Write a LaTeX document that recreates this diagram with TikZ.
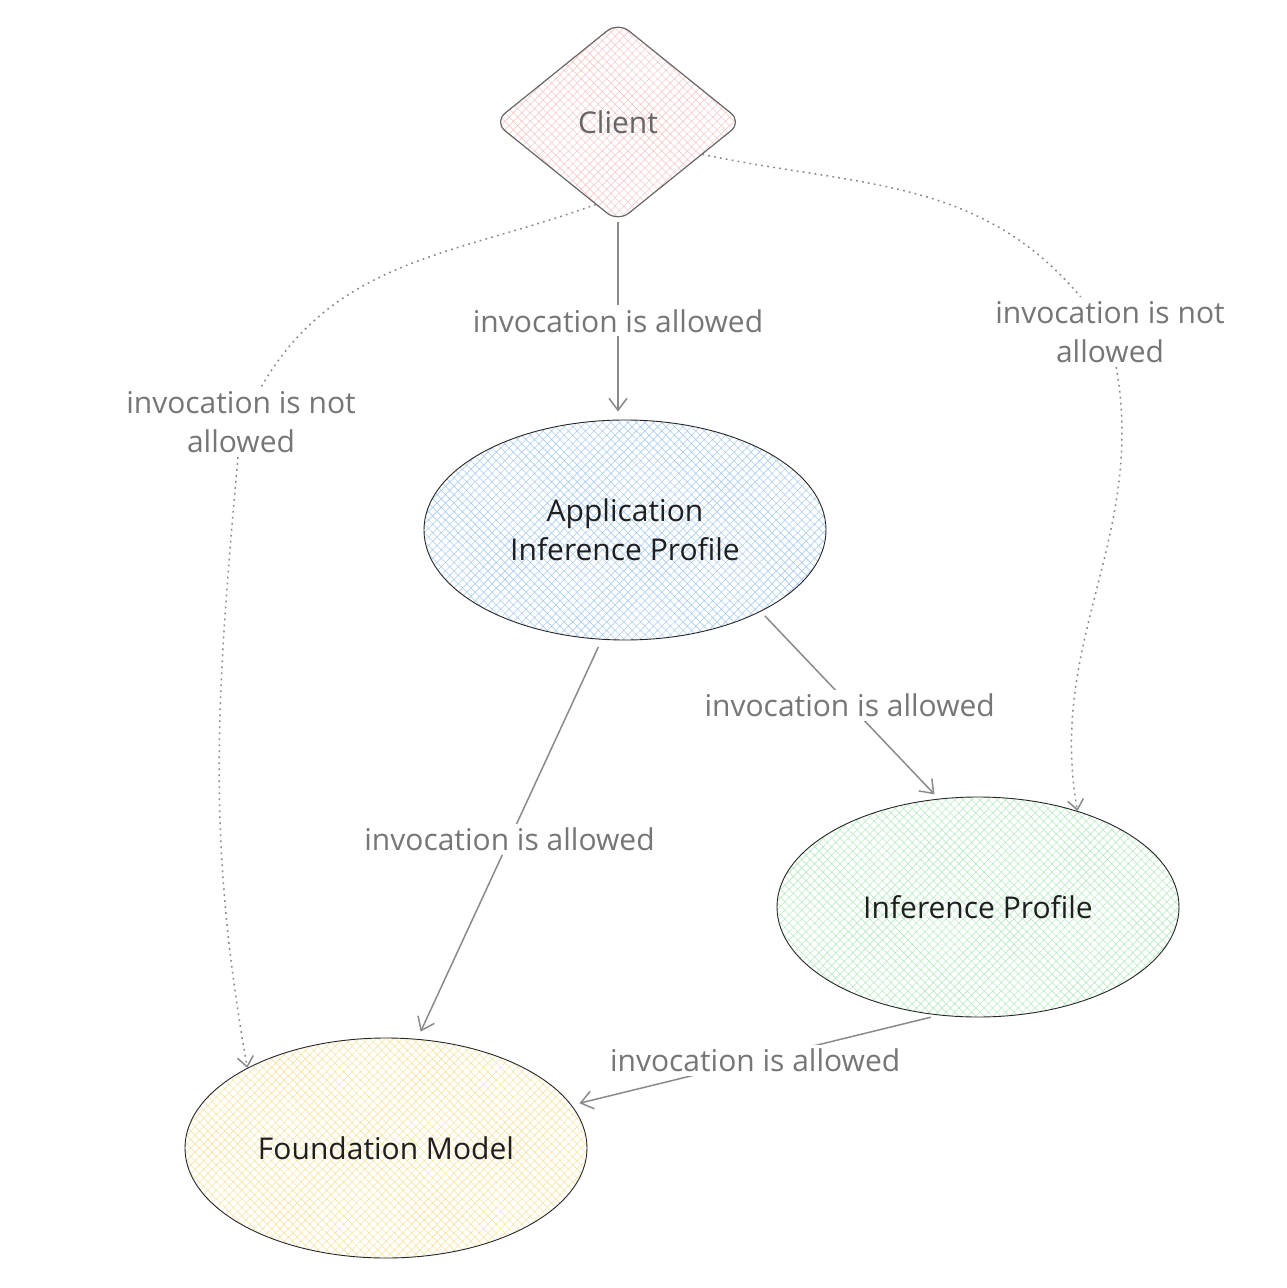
\documentclass[tikz,border=0pt]{standalone}
\usepackage{fontspec}
\setmainfont{Open Sans}
\usetikzlibrary{positioning}
\usetikzlibrary{arrows.meta}
\usetikzlibrary{shapes.geometric}
\usetikzlibrary{patterns.meta}
\definecolor{lblgray}{HTML}{767676}
\definecolor{edgegray}{HTML}{8A8A8A}
\definecolor{hpink}{HTML}{F6C9C9}
\definecolor{hblue}{HTML}{A9CDF2}
\definecolor{hgreen}{HTML}{B6EBC0}
\definecolor{hyellow}{HTML}{F5E3A0}
\tikzset{
  txt/.style={font=\fontsize{15}{19.5}\selectfont},
  hatch/.style={pattern={Hatch[angle=45,distance=3pt,line width=0.3pt]}, pattern color=#1},
  ell/.style={txt, ellipse, draw=black!85, line width=0.45pt, minimum width=201pt, minimum height=110pt, align=center, text=black!88},
  lbl/.style={txt, fill=white, text=lblgray, align=center, inner sep=2pt},
  flow/.style={draw=edgegray, line width=0.75pt, -{Straight Barb[length=6pt,width=9pt]}},
  noflow/.style={flow, dash pattern=on 0.9pt off 2.1pt, -{Straight Barb[length=5pt,width=8pt]}}
}
\begin{document}
\begin{tikzpicture}
		\useasboundingbox (-309pt,61pt) rectangle (334pt,-583pt);
		\node (client) [txt, diamond, aspect=1.245, minimum width=124pt, minimum height=100pt, rounded corners=7pt, draw=black!60, line width=0.6pt, hatch=hpink, text=black!60] {Client};
		\node (app) [ell, hatch=hblue, below of = client, node distance=204pt, xshift=3.5pt] {Application\\Inference Profile};
		\node (ip) [ell, hatch=hgreen, below of = app, node distance=188.5pt, xshift=176.5pt] {Inference Profile};
		\node (fm) [ell, hatch=hyellow, below of = app, node distance=309pt, xshift=-119.5pt] {Foundation Model};
		\node (nal) [lbl, below of = client, node distance=150pt, xshift=-188.5pt] {invocation is not\\allowed};
		\node (nar) [lbl, below of = client, node distance=105pt, xshift=246pt] {invocation is not\\allowed};
		\draw [flow, shorten >=4pt] (client.south) -- node[lbl, pos=0.5] {invocation is allowed} (client.south |- app.north);
		\draw [flow, shorten <=4pt, shorten >=4pt] (app.258) -- node[lbl, pos=0.5] {invocation is allowed} (fm.74);
		\draw [flow, shorten <=3pt, shorten >=3pt] (app.-31) -- node[lbl, pos=0.5] {invocation is allowed} (ip.110);
		\draw [flow, shorten <=4pt, shorten >=4pt] (ip.-110) -- node[lbl, pos=0.5] {invocation is allowed} (fm.13);
		\draw [noflow] (client.255) to[out=200, in=60] (nal) to[out=-95, in=100] (fm.150);
		\draw [noflow] (client.-21) to[out=-12, in=130] (nar) to[out=-80, in=100] (ip.44);
\end{tikzpicture}
\end{document}
